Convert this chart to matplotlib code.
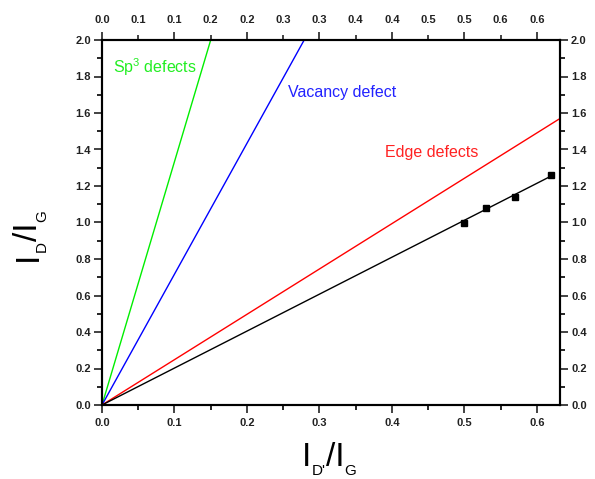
import matplotlib
matplotlib.use("Agg")
import matplotlib.pyplot as plt
from matplotlib.ticker import FixedLocator, FixedFormatter, MultipleLocator, FormatStrFormatter

plt.rcParams['font.family'] = ['Liberation Sans', 'DejaVu Sans']
plt.rcParams['mathtext.fontset'] = 'custom'
plt.rcParams['mathtext.rm'] = 'Liberation Sans'
plt.rcParams['mathtext.it'] = 'Liberation Sans'

# Data
sample_x = [0.50, 0.53, 0.57, 0.62]
sample_y = [1.00, 1.08, 1.14, 1.26]
fit_x = [0.0, 0.62]
fit_y = [0.0, 1.255]
sp3_x = [0.0, 0.15]
sp3_y = [0.0, 2.0]
vac_x = [0.0, 0.279]
vac_y = [0.0, 2.0]
edge_x = [0.0, 0.63]
edge_y = [0.0, 1.565]

top_tick_pos = [0.0, 0.05, 0.10, 0.15, 0.20, 0.25, 0.30, 0.35, 0.40, 0.45, 0.50, 0.55, 0.60]
top_tick_labels = ["0.0", "0.1", "0.1", "0.2", "0.2", "0.3", "0.3", "0.4", "0.4", "0.5", "0.5", "0.6", "0.6"]

W, H = 595, 479
fig = plt.figure(figsize=(W/100, H/100), dpi=100)
ax = fig.add_axes([102/W, 1-405/H, (560-102)/W, (405-40)/H])

ax.plot(sp3_x, sp3_y, color='#00ee00', lw=1.0)
ax.plot(vac_x, vac_y, color='#0000ff', lw=1.0)
ax.plot(edge_x, edge_y, color='#ff0000', lw=1.0)
ax.plot(fit_x, fit_y, color='black', lw=1.0)
ax.plot(sample_x, sample_y, 's', color='black', ms=5)

ax.set_xlim(0, 0.632)
ax.set_ylim(0, 2.0)

lab_col = '#222222'
ax.xaxis.set_major_locator(MultipleLocator(0.1))
ax.xaxis.set_minor_locator(MultipleLocator(0.05))
ax.yaxis.set_major_locator(MultipleLocator(0.2))
ax.yaxis.set_minor_locator(MultipleLocator(0.1))
ax.xaxis.set_major_formatter(FormatStrFormatter('%.1f'))
ax.yaxis.set_major_formatter(FormatStrFormatter('%.1f'))
ax.tick_params(which='major', direction='out', length=5.5, width=1.2, labelsize=8, colors=lab_col)
ax.tick_params(which='minor', direction='out', length=3.5, width=1.2)
ax.tick_params(axis='x', which='major', pad=4)
ax.tick_params(axis='y', which='major', pad=2.5)
ax.tick_params(axis='y', which='both', left=True, right=True, labelleft=True, labelright=True)
for s in ax.spines.values():
    s.set_linewidth(1.5)

# top axis
axt = ax.twiny()
axt.set_xlim(ax.get_xlim())
axt.xaxis.set_major_locator(FixedLocator(top_tick_pos[::2]))
axt.xaxis.set_minor_locator(FixedLocator(top_tick_pos[1::2]))
axt.xaxis.set_major_formatter(FixedFormatter(top_tick_labels[::2]))
axt.xaxis.set_minor_formatter(FixedFormatter(top_tick_labels[1::2]))
axt.tick_params(which='major', direction='out', length=5.5, width=1.2, labelsize=8, colors=lab_col, pad=5)
axt.tick_params(which='minor', direction='out', length=3.5, width=1.2, labelsize=8, colors=lab_col, pad=7)
for s in axt.spines.values():
    s.set_linewidth(1.5)

for a in (ax, axt):
    for lab in a.get_xticklabels(which='both') + a.get_yticklabels(which='both'):
        lab.set_fontweight('bold')

ax.text(0.0152, 1.852, r'Sp$^3$ defects', color='#22ee22', fontsize=11.5, va='center')
ax.text(0.257, 1.71, 'Vacancy defect', color='#2222ff', fontsize=11.5, va='center')
ax.text(0.390, 1.386, 'Edge defects', color='#ff2222', fontsize=11.5, va='center')

# Axis titles composed from pieces (Origin-style low subscripts)
fig.canvas.draw()
renderer = fig.canvas.get_renderer()

def compose(parts, cx, cy, rotation=0):
    # parts: (text, fontsize, is_sub)
    widths = []
    for txt, fs, sub in parts:
        t = fig.text(0, 0, txt, fontsize=fs)
        widths.append(t.get_window_extent(renderer).width)
        t.remove()
    total = sum(widths)
    pos = -total / 2
    for (txt, fs, sub), w in zip(parts, widths):
        drop = 9 if sub else 0
        if rotation == 0:
            px, py = cx + pos, cy - drop
        else:
            px, py = cx + drop, cy + pos
        fig.text(px / W, py / H, txt, fontsize=fs, rotation=rotation,
                 rotation_mode='anchor', ha='left', va='baseline', color='black')
        pos += w

# x label: baseline at y=466 from top
compose([("I", 24, False), ("D'", 11, True), ("/I", 24, False), ("G", 11, True)],
        329, H - 466)
# y label: baseline at x=37
compose([("I", 24, False), ("D", 11, True), ("/I", 24, False), ("G", 11, True)],
        37, H - 236, rotation=90)

fig.savefig('out.png', dpi=100)
